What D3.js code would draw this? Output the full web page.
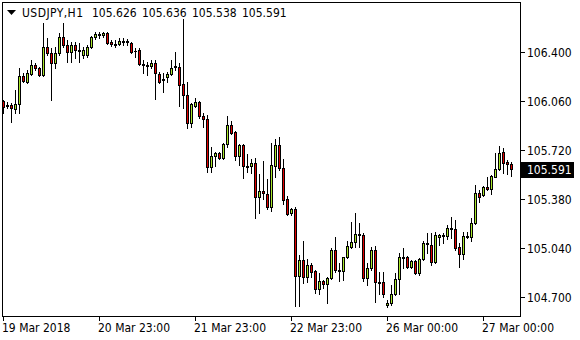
<!DOCTYPE html>
<html>
<head>
<meta charset="utf-8">
<script src="https://cdn.jsdelivr.net/npm/d3@7"></script>
<style>
  html, body { margin: 0; padding: 0; background: #fff; }
  svg { display: block; }
  text { font-family: "DejaVu Sans Condensed", "DejaVu Sans", sans-serif; font-stretch: condensed; font-size: 12px; fill: #000; }
</style>
</head>
<body>
<svg id="chart" width="580" height="340"></svg>
<script>
// ---- Data (USDJPY, H1) ----
const symbol = "USDJPY,H1";
const open = [
  106.060,106.025,106.032,106.004,106.039,106.233,106.192,106.247,106.310,106.289,
  106.240,106.435,106.393,106.324,106.393,106.504,106.449,106.400,106.449,106.414,
  106.379,106.379,106.435,106.504,106.525,106.518,106.532,106.469,106.456,106.456,
  106.476,106.471,106.462,106.407,106.414,106.317,106.310,106.303,106.324,106.247,
  106.206,106.227,106.247,106.296,106.296,106.178,106.102,105.907,106.025,106.053,
  105.956,105.935,105.602,105.678,105.699,105.664,105.762,105.893,105.845,105.678,
  105.755,105.609,105.609,105.630,105.394,105.435,105.415,105.324,105.609,105.755,
  105.595,105.380,105.283,105.310,104.846,104.957,104.839,104.922,104.880,104.756,
  104.811,104.790,104.832,105.026,104.887,104.880,104.977,105.047,105.081,105.137,
  105.130,104.832,104.901,105.026,104.804,104.804,104.644,104.658,104.721,104.825,
  104.977,104.977,104.908,104.950,104.866,104.963,105.075,105.061,104.943,105.116,
  105.130,105.123,105.179,105.172,105.047,104.998,105.123,105.116,105.213,105.422,
  105.408,105.463,105.449,105.533,105.588,105.706,105.637,105.626
];
const high = [
  106.067,106.053,106.046,106.136,106.289,106.254,106.275,106.344,106.324,106.296,
  106.601,106.497,106.428,106.435,106.532,106.601,106.483,106.469,106.469,106.462,
  106.435,106.449,106.511,106.539,106.539,106.539,106.539,106.483,106.483,106.497,
  106.497,106.490,106.469,106.428,106.428,106.344,106.331,106.344,106.344,106.261,
  106.254,106.261,106.344,106.400,106.324,106.629,106.192,106.046,106.081,106.060,
  105.977,105.963,105.741,105.706,105.706,105.768,105.956,105.921,105.852,105.762,
  105.762,105.692,105.657,105.664,105.553,105.644,105.519,105.768,105.796,105.810,
  105.657,105.401,105.317,105.324,104.991,105.088,104.963,104.936,104.887,104.866,
  104.818,104.839,105.040,105.116,104.936,104.980,105.088,105.220,105.283,105.213,
  105.144,104.936,105.047,105.054,104.873,104.873,104.679,104.783,104.866,105.005,
  105.040,104.984,104.957,104.957,104.970,105.088,105.144,105.144,105.151,105.137,
  105.144,105.199,105.255,105.234,105.075,105.151,105.151,105.248,105.477,105.442,
  105.470,105.533,105.546,105.699,105.748,105.734,105.651,105.636
];
const low = [
  105.977,106.011,105.914,105.977,105.977,106.192,106.185,106.240,106.275,106.233,
  106.233,106.379,106.067,106.289,106.379,106.435,106.331,106.331,106.358,106.331,
  106.358,106.365,106.428,106.490,106.497,106.504,106.456,106.442,106.435,106.449,
  106.449,106.449,106.393,106.365,106.310,106.254,106.240,106.289,106.074,106.188,
  106.122,106.192,106.240,106.275,106.025,106.011,105.873,105.880,106.018,105.942,
  105.880,105.567,105.567,105.609,105.657,105.657,105.741,105.831,105.651,105.616,
  105.526,105.567,105.560,105.248,105.283,105.380,105.310,105.297,105.533,105.581,
  105.345,105.269,105.269,104.637,104.637,104.797,104.804,104.839,104.728,104.721,
  104.762,104.658,104.825,104.873,104.811,104.818,104.970,105.040,105.047,105.047,
  104.811,104.783,104.887,104.665,104.721,104.700,104.630,104.644,104.714,104.721,
  104.901,104.901,104.901,104.859,104.852,104.957,105.005,104.922,104.936,105.061,
  105.075,105.102,105.109,105.026,104.908,104.963,105.109,105.088,105.206,105.359,
  105.401,105.442,105.415,105.533,105.581,105.560,105.553,105.538
];
const close = [
  106.018,106.032,106.011,106.039,106.233,106.199,106.254,106.310,106.289,106.240,
  106.435,106.393,106.324,106.393,106.504,106.449,106.400,106.449,106.414,106.405,
  106.414,106.435,106.504,106.525,106.520,106.532,106.462,106.456,106.451,106.476,
  106.471,106.476,106.400,106.410,106.317,106.312,106.305,106.324,106.254,106.192,
  106.210,106.247,106.289,106.300,106.171,106.102,105.907,106.039,106.053,105.956,
  105.935,105.602,105.678,105.699,105.664,105.762,105.893,105.838,105.678,105.755,
  105.609,105.605,105.630,105.394,105.435,105.422,105.324,105.616,105.755,105.595,
  105.373,105.276,105.310,104.846,104.957,104.839,104.922,104.873,104.756,104.811,
  104.790,104.832,105.026,104.887,104.880,104.977,105.054,105.081,105.137,105.130,
  104.832,104.901,105.026,104.804,104.800,104.721,104.658,104.721,104.825,104.977,
  104.973,104.908,104.950,104.866,104.963,105.075,105.071,104.943,105.130,105.130,
  105.126,105.179,105.175,105.040,104.998,105.123,105.119,105.213,105.422,105.394,
  105.463,105.449,105.539,105.588,105.699,105.630,105.623,105.591
];
const dateTickIndex = [0, 24, 48, 72, 96, 120];
const dateLabels = ["19 Mar 2018", "20 Mar 23:00", "21 Mar 23:00", "22 Mar 23:00", "26 Mar 00:00", "27 Mar 00:00"];
const priceTicks = [106.400, 106.060, 105.720, 105.380, 105.040, 104.700];

// ---- Drawing ----
const svg = d3.select("#chart");
const n = open.length;
const x = d3.scaleLinear().domain([0, n - 1]).range([3, 511]);
const y = d3.scaleLinear().domain([104.7, 106.4]).range([297, 52]);
const py = v => Math.round(y(v));
const px = i => Math.round(x(i));

const bars = d3.range(n).map(i => ({ i, o: open[i], h: high[i], l: low[i], c: close[i] }));

const g = svg.append("g").attr("shape-rendering", "crispEdges");

// wicks
g.selectAll("rect.wick").data(bars).join("rect")
  .attr("class", "wick")
  .attr("x", d => px(d.i)).attr("width", 1)
  .attr("y", d => py(d.h))
  .attr("height", d => py(d.l) - py(d.h) + 1)
  .attr("fill", "#000");

// body outlines
g.selectAll("rect.body").data(bars).join("rect")
  .attr("class", "body")
  .attr("x", d => px(d.i) - 1).attr("width", 3)
  .attr("y", d => py(Math.max(d.o, d.c)))
  .attr("height", d => py(Math.min(d.o, d.c)) - py(Math.max(d.o, d.c)) + 1)
  .attr("fill", "#000");

// body fills
g.selectAll("rect.fill").data(bars.filter(d => py(Math.min(d.o, d.c)) - py(Math.max(d.o, d.c)) >= 2)).join("rect")
  .attr("class", "fill")
  .attr("x", d => px(d.i)).attr("width", 1)
  .attr("y", d => py(Math.max(d.o, d.c)) + 1)
  .attr("height", d => py(Math.min(d.o, d.c)) - py(Math.max(d.o, d.c)) - 1)
  .attr("fill", d => d.c >= d.o ? "#a8e62a" : "#e00000");

// frame
svg.append("rect")
  .attr("x", 2.5).attr("y", 2.5).attr("width", 518).attr("height", 314)
  .attr("fill", "none").attr("stroke", "#000").attr("stroke-width", 1)
  .attr("shape-rendering", "crispEdges");

// price axis
const pa = svg.append("g");
pa.selectAll("line").data(priceTicks).join("line")
  .attr("x1", 521).attr("x2", 525)
  .attr("y1", d => py(d) + 0.5).attr("y2", d => py(d) + 0.5)
  .attr("stroke", "#000").attr("shape-rendering", "crispEdges");
pa.selectAll("text").data(priceTicks).join("text")
  .attr("x", 527).attr("y", d => py(d) + 5)
  .text(d => d.toFixed(3));

// current price box
const last = close[n - 1];
svg.append("rect")
  .attr("x", 521).attr("y", py(last) - 7).attr("width", 53).attr("height", 16)
  .attr("fill", "#000").attr("shape-rendering", "crispEdges");
svg.append("text")
  .attr("x", 527).attr("y", py(last) + 5)
  .style("fill", "#fff")
  .text(last.toFixed(3));

// time axis
const ta = svg.append("g");
ta.selectAll("line").data(dateTickIndex).join("line")
  .attr("x1", d => px(d) + 0.5).attr("x2", d => px(d) + 0.5)
  .attr("y1", 317).attr("y2", 321)
  .attr("stroke", "#000").attr("shape-rendering", "crispEdges");
ta.selectAll("text").data(dateTickIndex).join("text")
  .attr("x", d => px(d) - 1).attr("y", 332)
  .text((d, k) => dateLabels[k]);

// header
svg.append("path").attr("d", "M7,10 L16,10 L11.5,15 Z").attr("fill", "#000");
svg.append("text").attr("x", 22).attr("y", 17).attr("textLength", 61).text(symbol);
const ohlc = [open[n-1], high[n-1], low[n-1], close[n-1]];
svg.append("g").selectAll("text").data(ohlc).join("text")
  .attr("x", (d, k) => 92 + k * 50).attr("y", 17)
  .text(d => d.toFixed(3));
</script>
</body>
</html>
